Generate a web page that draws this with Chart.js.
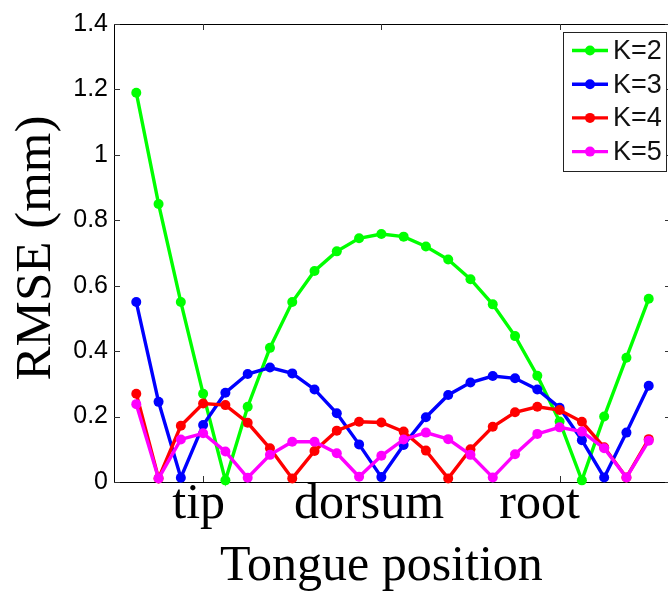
<!DOCTYPE html>
<html>
<head>
<meta charset="utf-8">
<script src="https://cdn.jsdelivr.net/npm/chart.js@4.4.1/dist/chart.umd.min.js"></script>
<style>
  html, body { margin: 0; padding: 0; background: #fff; overflow: hidden; }
  #wrap { width: 676px; height: 591px; }
</style>
</head>
<body>
<div id="wrap"><canvas id="rmse" width="676" height="591"></canvas></div>
<script>
// tongue sample positions (1..24) and RMSE per K
const positions = [1, 2, 3, 4, 5, 6, 7, 8, 9, 10, 11, 12, 13, 14, 15, 16, 17, 18, 19, 20, 21, 22, 23, 24];
const rmseK2 = [1.19, 0.85, 0.55, 0.27, 0.005, 0.23, 0.41, 0.55, 0.645, 0.705, 0.745, 0.758, 0.75, 0.72, 0.68, 0.62, 0.543, 0.446, 0.325, 0.185, 0.005, 0.2, 0.38, 0.56];
const rmseK3 = [0.55, 0.245, 0.013, 0.174, 0.273, 0.33, 0.35, 0.332, 0.283, 0.21, 0.115, 0.015, 0.113, 0.198, 0.266, 0.304, 0.324, 0.317, 0.283, 0.227, 0.128, 0.014, 0.151, 0.294];
const rmseK4 = [0.27, 0.011, 0.172, 0.24, 0.235, 0.181, 0.103, 0.011, 0.095, 0.157, 0.184, 0.182, 0.154, 0.096, 0.011, 0.1, 0.169, 0.213, 0.23, 0.22, 0.184, 0.106, 0.014, 0.131];
const rmseK5 = [0.238, 0.011, 0.13, 0.149, 0.093, 0.013, 0.083, 0.123, 0.123, 0.088, 0.016, 0.08, 0.13, 0.151, 0.131, 0.083, 0.014, 0.085, 0.147, 0.167, 0.154, 0.103, 0.014, 0.126];
const seriesLabels = ['K=2', 'K=3', 'K=4', 'K=5'];
const seriesColors = ['#00ff00', '#0000ff', '#ff0000', '#ff00ff'];
const xTicks = [4, 12, 20];
const yTicks = [0, 0.2, 0.4, 0.6, 0.8, 1, 1.2, 1.4];
// region names under the x axis, in position units
const regionNames = ['tip', 'dorsum', 'root'];
const regionAt = [3.8, 11.45, 19.1];

const SERIF = '"Liberation Serif", "Times New Roman", serif';
const SANS = '"Liberation Sans", Arial, sans-serif';

const allSeries = [rmseK2, rmseK3, rmseK4, rmseK5];
const datasets = allSeries.map((vals, i) => ({
  label: seriesLabels[i],
  data: positions.map((p, j) => ({ x: p, y: vals[j] })),
  borderColor: seriesColors[i],
  backgroundColor: seriesColors[i],
  pointBackgroundColor: seriesColors[i],
  pointBorderColor: seriesColors[i],
  pointBorderWidth: 0,
  pointRadius: 5,
  borderWidth: 3.4,
  tension: 0,
  clip: false,
  order: allSeries.length - i, // later K drawn on top, like matlab
}));

// axes box with inward ticks on all four sides
const boxPlugin = {
  id: 'box',
  beforeDatasetsDraw(chart) {
    const { ctx, chartArea: a, scales: { x, y } } = chart;
    ctx.save();
    ctx.strokeStyle = '#000';
    ctx.lineWidth = 1;
    ctx.strokeRect(a.left + 0.5, a.top + 0.5, a.right - a.left, a.bottom - a.top);
    ctx.strokeStyle = '#333';
    ctx.beginPath();
    const tl = 6;
    xTicks.forEach(v => {
      const px = Math.round(x.getPixelForValue(v)) + 0.5;
      ctx.moveTo(px, a.bottom); ctx.lineTo(px, a.bottom - tl);
      ctx.moveTo(px, a.top); ctx.lineTo(px, a.top + tl);
    });
    yTicks.forEach(v => {
      const py = Math.round(y.getPixelForValue(v)) + 0.5;
      ctx.moveTo(a.left, py); ctx.lineTo(a.left + tl, py);
      ctx.moveTo(a.right, py); ctx.lineTo(a.right - tl, py);
    });
    ctx.stroke();
    ctx.restore();
  },
  afterDatasetsDraw(chart) {
    const { ctx } = chart;
    // legend box, top right inside the axes
    const bx = 563, by = 32, bw = 103, bh = 139, row = 33.7;
    ctx.save();
    ctx.fillStyle = '#fff';
    ctx.fillRect(bx, by, bw, bh);
    ctx.strokeStyle = '#222';
    ctx.lineWidth = 1;
    ctx.strokeRect(bx + 0.5, by + 0.5, bw, bh);
    ctx.font = '27px ' + SANS;
    ctx.textBaseline = 'middle';
    ctx.textAlign = 'left';
    seriesLabels.forEach((lab, i) => {
      const cy = by + 18.5 + i * row;
      ctx.strokeStyle = seriesColors[i];
      ctx.lineWidth = 3.4;
      ctx.beginPath(); ctx.moveTo(bx + 9, cy); ctx.lineTo(bx + 45, cy); ctx.stroke();
      ctx.fillStyle = seriesColors[i];
      ctx.beginPath(); ctx.arc(bx + 27, cy, 5, 0, Math.PI * 2); ctx.fill();
      ctx.fillStyle = '#111';
      ctx.fillText(lab, bx + 50, cy + 1);
    });
    ctx.restore();
  },
  afterDraw(chart) {
    const { ctx, chartArea: a, scales: { x } } = chart;
    ctx.save();
    ctx.fillStyle = '#000';
    ctx.textAlign = 'center';
    ctx.textBaseline = 'alphabetic';
    ctx.font = '50px ' + SERIF;
    regionNames.forEach((n, i) => ctx.fillText(n, x.getPixelForValue(regionAt[i]), 518));
    ctx.fillText('Tongue position', x.getPixelForValue(12), 580);
    ctx.translate(50, (a.top + a.bottom) / 2 - 5);
    ctx.rotate(-Math.PI / 2);
    ctx.font = '51px ' + SERIF;
    ctx.fillText('RMSE (mm)', 0, 0);
    ctx.restore();
  },
};

new Chart(document.getElementById('rmse'), {
  type: 'line',
  data: { datasets },
  options: {
    responsive: false,
    animation: false,
    events: [],
    layout: { padding: { top: 24, right: 3, bottom: 0, left: 0 } },
    plugins: { legend: { display: false }, tooltip: { enabled: false } },
    scales: {
      x: {
        type: 'linear', min: 0, max: 25,
        afterBuildTicks: s => { s.ticks = xTicks.map(v => ({ value: v })); },
        afterFit: s => { s.height = 109; },
        ticks: { display: false },
        grid: { display: false, drawTicks: false },
        border: { display: false },
      },
      y: {
        min: 0, max: 1.4,
        afterBuildTicks: s => { s.ticks = yTicks.map(v => ({ value: v })); },
        afterFit: s => { s.width = 114; },
        ticks: {
          padding: 6, color: '#000',
          font: { family: SANS, size: 25 },
          callback: v => String(+v.toFixed(1)),
        },
        grid: { display: false, drawTicks: false },
        border: { display: false },
      },
    },
  },
  plugins: [boxPlugin],
});
</script>
</body>
</html>
